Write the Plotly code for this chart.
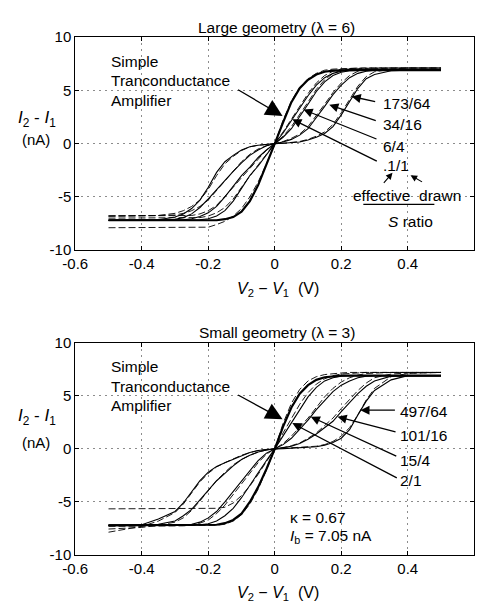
import plotly.graph_objects as go

# ---------------- data ----------------
V = [-0.5, -0.4, -0.35, -0.3, -0.275, -0.25, -0.225, -0.2, -0.175, -0.15, -0.125, -0.1,
     -0.075, -0.05, -0.025, 0, 0.025, 0.05, 0.075, 0.1, 0.125, 0.15, 0.175, 0.2, 0.225,
     0.25, 0.275, 0.3, 0.35, 0.4, 0.5]

# Large geometry (lambda = 6)
large_sta_meas = [-7.2, -7.2, -7.2, -7.2, -7.2, -7.2, -7.2, -7.2, -7.2, -7.1, -6.9, -6.4, -5.4, -3.9, -2.0, 0,
                  2.0, 3.9, 5.2, 6.0, 6.5, 6.75, 6.85, 6.9, 6.9, 6.9, 6.9, 6.9, 6.9, 6.9, 6.9]
large_sta_theo = [-7.9, -7.9, -7.9, -7.9, -7.9, -7.9, -7.88, -7.85, -7.6, -7.3, -6.8, -6.1, -5.0, -3.6, -1.9, 0,
                  2.2, 4.0, 5.3, 6.1, 6.6, 6.9, 7.0, 7.05, 7.1, 7.1, 7.1, 7.1, 7.1, 7.1, 7.1]
large_r1_meas = [-7.2, -7.2, -7.2, -7.2, -7.2, -7.2, -7.15, -7.05, -6.8, -6.3, -5.4, -4.2, -3.0, -2.1, -1.0, 0,
                 1.0, 2.2, 3.3, 4.5, 5.5, 6.2, 6.6, 6.8, 6.9, 6.9, 6.9, 6.9, 6.9, 6.9, 6.9]
large_r1_theo = [-7.0, -7.0, -7.0, -7.0, -7.0, -7.0, -6.95, -6.8, -6.5, -6.0, -5.2, -4.1, -3.0, -2.0, -1.0, 0,
                 1.1, 2.3, 3.5, 4.7, 5.7, 6.4, 6.8, 7.0, 7.05, 7.1, 7.1, 7.1, 7.1, 7.1, 7.1]
large_r2_meas = [-7.2, -7.2, -7.2, -7.2, -7.15, -7.05, -6.85, -6.5, -5.9, -5.0, -4.0, -3.0, -2.2, -1.3, -0.6, 0,
                 0.6, 1.4, 2.5, 3.7, 4.9, 5.8, 6.4, 6.7, 6.85, 6.9, 6.9, 6.9, 6.9, 6.9, 6.9]
large_r2_theo = [-6.8, -6.8, -6.8, -6.8, -6.8, -6.75, -6.6, -6.3, -5.8, -5.0, -4.1, -3.2, -2.3, -1.4, -0.6, 0,
                 0.7, 1.6, 2.7, 3.9, 5.1, 6.0, 6.6, 6.9, 7.0, 7.05, 7.1, 7.1, 7.1, 7.1, 7.1]
large_r3_meas = [-7.2, -7.2, -7.2, -7.1, -6.95, -6.6, -6.0, -5.2, -4.3, -3.4, -2.6, -1.8, -1.1, -0.6, -0.2, 0,
                 0.15, 0.4, 0.8, 1.4, 2.4, 3.5, 4.6, 5.5, 6.2, 6.6, 6.8, 6.9, 6.9, 6.9, 6.9]
large_r3_theo = [-6.8, -6.8, -6.75, -6.7, -6.55, -6.3, -5.9, -5.3, -4.4, -3.4, -2.5, -1.7, -1.0, -0.5, -0.2, 0,
                 0.2, 0.5, 0.9, 1.6, 2.6, 3.7, 4.8, 5.7, 6.4, 6.8, 7.0, 7.05, 7.1, 7.1, 7.1]
large_r4_meas = [-7.2, -7.2, -7.15, -6.9, -6.6, -6.1, -5.3, -4.1, -2.7, -1.7, -1.1, -0.6, -0.3, -0.15, -0.05, 0,
                 0.03, 0.08, 0.15, 0.35, 0.6, 0.95, 1.6, 2.7, 4.0, 5.2, 6.1, 6.5, 6.85, 6.9, 6.9]
large_r4_theo = [-6.8, -6.8, -6.75, -6.55, -6.3, -5.9, -5.3, -4.3, -3.0, -1.9, -1.2, -0.65, -0.3, -0.15, -0.05, 0,
                 0.03, 0.1, 0.2, 0.4, 0.7, 1.1, 1.8, 2.9, 4.2, 5.4, 6.3, 6.75, 7.0, 7.1, 7.1]

# Small geometry (lambda = 3)
small_sta_meas = [-7.2, -7.2, -7.2, -7.2, -7.2, -7.2, -7.2, -7.2, -7.15, -7.0, -6.7, -6.1, -5.0, -3.6, -1.9, 0,
                  2.1, 3.9, 5.2, 6.0, 6.5, 6.75, 6.85, 6.9, 6.9, 6.9, 6.9, 6.9, 6.9, 6.9, 6.9]
small_sta_theo = [-7.2, -7.2, -7.2, -7.2, -7.2, -7.2, -7.2, -7.2, -7.2, -7.1, -6.8, -6.2, -5.2, -3.8, -2.0, 0,
                  2.4, 4.3, 5.6, 6.4, 6.8, 7.0, 7.1, 7.15, 7.2, 7.2, 7.2, 7.2, 7.2, 7.2, 7.2]
small_r1_meas = [-7.2, -7.2, -7.2, -7.2, -7.2, -7.2, -7.15, -7.05, -6.8, -6.3, -5.6, -4.6, -3.4, -2.3, -1.1, 0,
                 1.2, 2.5, 3.7, 4.9, 5.8, 6.4, 6.7, 6.85, 6.9, 6.9, 6.9, 6.9, 6.9, 6.9, 6.9]
small_r1_theo = [-5.65, -5.65, -5.65, -5.65, -5.65, -5.65, -5.65, -5.65, -5.6, -5.5, -5.1, -4.4, -3.5, -2.4, -1.2, 0,
                 1.5, 2.9, 4.2, 5.3, 6.1, 6.6, 6.9, 7.05, 7.1, 7.2, 7.2, 7.2, 7.2, 7.2, 7.2]
small_r2_meas = [-7.2, -7.2, -7.2, -7.2, -7.2, -7.1, -6.9, -6.5, -5.9, -5.0, -4.0, -3.0, -2.0, -1.1, -0.4, 0,
                 0.4, 1.0, 1.8, 2.7, 3.7, 4.6, 5.4, 6.0, 6.4, 6.7, 6.85, 6.9, 6.9, 6.9, 6.9]
small_r2_theo = [-7.3, -7.3, -7.3, -7.3, -7.25, -7.2, -7.0, -6.7, -6.1, -5.3, -4.3, -3.3, -2.3, -1.3, -0.5, 0,
                 0.5, 1.2, 2.0, 2.9, 3.9, 4.9, 5.7, 6.3, 6.7, 6.95, 7.1, 7.15, 7.2, 7.2, 7.2]
small_r3_meas = [-7.2, -7.2, -7.1, -6.8, -6.3, -5.7, -4.8, -3.9, -3.0, -2.3, -1.6, -1.0, -0.6, -0.3, -0.1, 0,
                 0.1, 0.25, 0.5, 0.9, 1.4, 2.0, 2.6, 3.5, 4.4, 5.2, 5.9, 6.4, 6.85, 6.9, 6.9]
small_r3_theo = [-7.55, -7.4, -7.2, -6.9, -6.5, -5.8, -4.9, -3.9, -3.0, -2.2, -1.5, -1.0, -0.6, -0.3, -0.1, 0,
                 0.1, 0.3, 0.55, 1.0, 1.5, 2.2, 2.9, 3.8, 4.7, 5.5, 6.2, 6.7, 7.05, 7.15, 7.2]
small_r4_meas = [-7.2, -7.15, -6.6, -5.9, -5.1, -4.0, -3.0, -2.2, -1.65, -1.3, -1.0, -0.65, -0.35, -0.15, -0.05, 0,
                 0.02, 0.05, 0.08, 0.12, 0.2, 0.35, 0.6, 1.0, 1.8, 3.2, 4.5, 5.5, 6.5, 6.9, 6.9]
small_r4_theo = [-7.85, -7.3, -6.8, -6.0, -5.2, -4.1, -3.1, -2.3, -1.7, -1.3, -0.95, -0.6, -0.35, -0.15, -0.05, 0,
                 0.02, 0.05, 0.1, 0.15, 0.25, 0.4, 0.7, 1.2, 2.0, 3.2, 4.6, 5.7, 6.8, 7.1, 7.2]

large_ratios = ["173/64", "34/16", "6/4", ".1/1"]
small_ratios = ["497/64", "101/16", "15/4", "2/1"]

x_tickvals = [-0.6, -0.4, -0.2, 0, 0.2, 0.4, 0.6]
x_ticktext = ["-0.6", "-0.4", "-0.2", "0", "0.2", "0.4", "0.6"]
y_tickvals = [-10, -5, 0, 5, 10]
y_ticktext = ["-10", "-5", "0", "5", "10"]

# ---------------- figure ----------------
W, H = 484, 609
FONT = "Arial, Liberation Sans, Helvetica, sans-serif"


def px(x):
    return x / W


def py(y):
    return 1 - y / H


fig = go.Figure()

large = [(large_sta_meas, large_sta_theo, 2.2), (large_r1_meas, large_r1_theo, 1.1),
         (large_r2_meas, large_r2_theo, 1.1), (large_r3_meas, large_r3_theo, 1.1),
         (large_r4_meas, large_r4_theo, 1.1)]
small = [(small_sta_meas, small_sta_theo, 2.2), (small_r1_meas, small_r1_theo, 1.1),
         (small_r2_meas, small_r2_theo, 1.1), (small_r3_meas, small_r3_theo, 1.1),
         (small_r4_meas, small_r4_theo, 1.1)]

for (xa, ya), group in (("x", "y"), large), (("x2", "y2"), small):
    for meas, theo, w in group:
        fig.add_trace(go.Scatter(x=V, y=theo, mode="lines", xaxis=xa, yaxis=ya,
                                 line=dict(color="black", width=0.9, dash="7px,3px"),
                                 showlegend=False, hoverinfo="skip"))
        fig.add_trace(go.Scatter(x=V, y=meas, mode="lines", xaxis=xa, yaxis=ya,
                                 line=dict(color="black", width=w),
                                 showlegend=False, hoverinfo="skip"))

x_dom = [px(64), px(474)]
axis_common = dict(showline=True, linecolor="black", linewidth=1, mirror="ticks",
                   ticks="inside", ticklen=4, tickcolor="black",
                   showgrid=True, gridcolor="#8c8c8c", griddash="2px,4px", gridwidth=1,
                   zeroline=False, tickfont=dict(family=FONT, size=15, color="black"))

fig.update_layout(
    width=W, height=H, margin=dict(l=0, r=0, t=0, b=0),
    paper_bgcolor="white", plot_bgcolor="white",
    xaxis=dict(domain=x_dom, range=[-0.6, 0.6], anchor="y", tickvals=x_tickvals,
               ticktext=x_ticktext, **axis_common),
    yaxis=dict(domain=[py(248), py(29)], range=[-10, 10], anchor="x", tickvals=y_tickvals,
               ticktext=y_ticktext, **axis_common),
    xaxis2=dict(domain=x_dom, range=[-0.6, 0.6], anchor="y2", tickvals=x_tickvals,
                ticktext=x_ticktext, **axis_common),
    yaxis2=dict(domain=[py(561.7), py(343.3)], range=[-10, 10], anchor="x2", tickvals=y_tickvals,
                ticktext=y_ticktext, **axis_common),
)

ann = []


def text(x, y, s, size=15.5, xanchor="center", align="center"):
    ann.append(dict(x=px(x), y=py(y), xref="paper", yref="paper", text=s, showarrow=False,
                    xanchor=xanchor, yanchor="middle", align=align,
                    font=dict(family=FONT, size=size, color="black")))


def arrow(tail, tip, head=2, size=1.0, width=1.2):
    ann.append(dict(x=px(tip[0]), y=py(tip[1]), xref="paper", yref="paper", text="",
                    showarrow=True, ax=tail[0] - tip[0], ay=tail[1] - tip[1],
                    arrowhead=head, arrowsize=size, arrowwidth=width, arrowcolor="black",
                    standoff=0, startstandoff=0))


# titles
text(271, 19, "Large geometry (\u03bb = 6)", size=15.5)
text(271, 333, "Small geometry (\u03bb = 3)", size=15.5)
# axis titles
for yoff in (0, 312):
    text(272, 289 + yoff, "<i>V</i><sub>2</sub> \u2212 <i>V</i><sub>1</sub>  (V)", size=16)
text(25, 113, "<i>I</i><sub>2</sub> - <i>I</i><sub>1</sub>", size=17)
text(24, 134, "(nA)", size=15)
text(25, 420, "<i>I</i><sub>2</sub> - <i>I</i><sub>1</sub>", size=17)
text(24, 446, "(nA)", size=15)

# Simple Transconductance Amplifier labels
for y0 in (54, 368):
    text(99, y0, "Simple", xanchor="left")
    text(99, y0 + 20, "Tranconductance", xanchor="left")
    text(99, y0 + 40, "Amplifier", xanchor="left")
arrow((231, 83), (277, 110), head=2, size=2.6, width=1.3)
arrow((231, 397), (277, 422), head=2, size=2.6, width=1.3)

# top ratio labels
for lab, ly in zip(large_ratios, [97, 119, 141.5, 161.5]):
    text(378, ly, lab, xanchor="left")
arrow((373, 95.5), (348, 90), head=2, size=1.4, width=1.3)
arrow((373, 115), (325, 98.5), head=2, size=1.4, width=1.3)
arrow((373, 133.5), (298.5, 103.5), head=2, size=1.4, width=1.3)
arrow((373, 156), (287, 113.5), head=2, size=1.4, width=1.3)
arrow((380, 180), (390, 168.5), head=2, size=1.2, width=1.1)
arrow((421.5, 178.5), (408.5, 171), head=2, size=1.2, width=1.1)
text(405, 192, "effective  drawn", xanchor="center")
text(408, 218.5, "<i>S</i> ratio", xanchor="center")

# bottom ratio labels
for lab, ly in zip(small_ratios, [414.5, 438.5, 464.5, 485]):
    text(396, ly, lab, xanchor="left")
arrow((393, 412.7), (357, 412.7), head=2, size=1.4, width=1.3)
arrow((393, 435), (333.5, 419.5), head=2, size=1.4, width=1.3)
arrow((393, 459.5), (306, 419.5), head=2, size=1.4, width=1.3)
arrow((393, 481.5), (287, 426), head=2, size=1.4, width=1.3)

text(283, 523, "\u03ba = 0.67", xanchor="left")
text(283, 543, "<i>I</i><sub>b</sub> = 7.05 nA", xanchor="left")

fig.update_layout(annotations=ann,
                  shapes=[dict(type="line", xref="paper", yref="paper", x0=px(360), x1=px(433),
                               y0=py(201), y1=py(201), line=dict(color="black", width=1.2))])

fig.write_html("out.html")
